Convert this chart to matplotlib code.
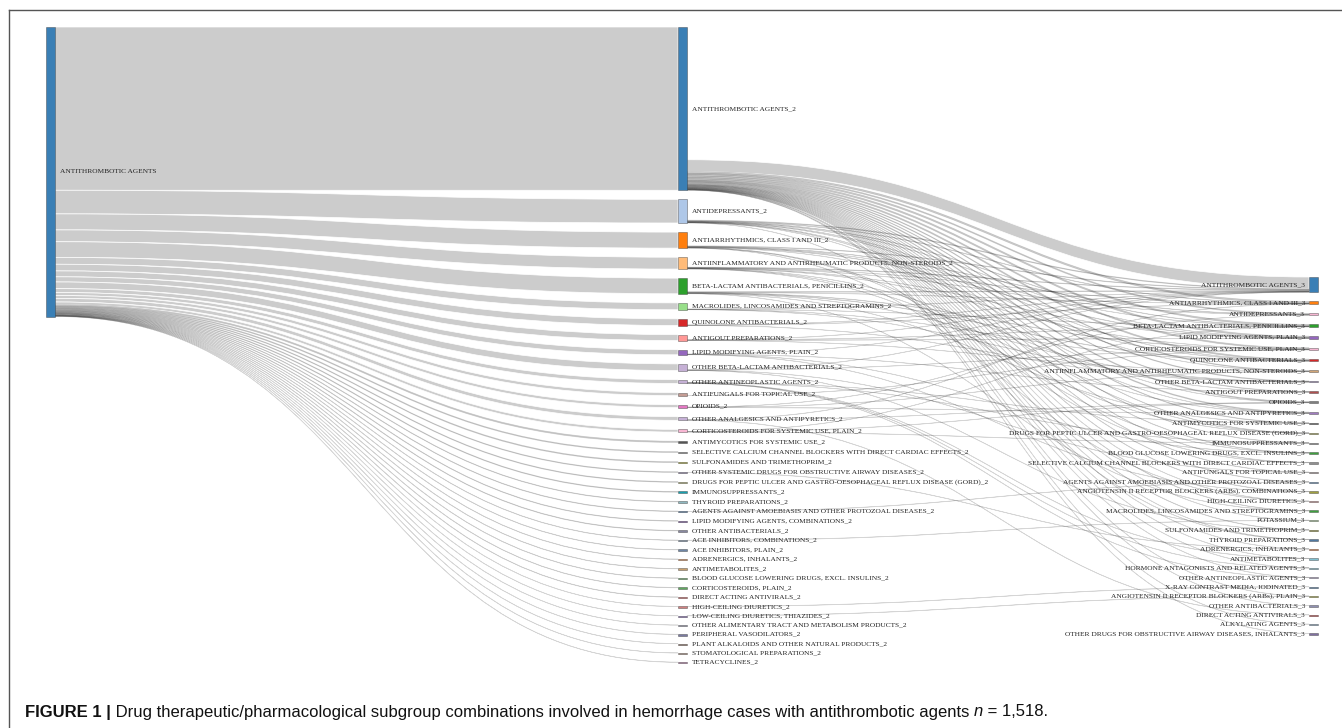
import matplotlib
matplotlib.use("Agg")
import matplotlib.pyplot as plt
from matplotlib.path import Path
from matplotlib.patches import PathPatch, Rectangle

# ---- data ----
first_drug = "ANTITHROMBOTIC AGENTS"
first_color = "#3a7fb5"

second_drugs = [
    "ANTITHROMBOTIC AGENTS",
    "ANTIDEPRESSANTS",
    "ANTIARRHYTHMICS, CLASS I AND III",
    "ANTIINFLAMMATORY AND ANTIRHEUMATIC PRODUCTS, NON-STEROIDS",
    "BETA-LACTAM ANTIBACTERIALS, PENICILLINS",
    "MACROLIDES, LINCOSAMIDES AND STREPTOGRAMINS",
    "QUINOLONE ANTIBACTERIALS",
    "ANTIGOUT PREPARATIONS",
    "LIPID MODIFYING AGENTS, PLAIN",
    "OTHER BETA-LACTAM ANTIBACTERIALS",
    "OTHER ANTINEOPLASTIC AGENTS",
    "ANTIFUNGALS FOR TOPICAL USE",
    "OPIOIDS",
    "OTHER ANALGESICS AND ANTIPYRETICS",
    "CORTICOSTEROIDS FOR SYSTEMIC USE, PLAIN",
    "ANTIMYCOTICS FOR SYSTEMIC USE",
    "SELECTIVE CALCIUM CHANNEL BLOCKERS WITH DIRECT CARDIAC EFFECTS",
    "SULFONAMIDES AND TRIMETHOPRIM",
    "OTHER SYSTEMIC DRUGS FOR OBSTRUCTIVE AIRWAY DISEASES",
    "DRUGS FOR PEPTIC ULCER AND GASTRO-OESOPHAGEAL REFLUX DISEASE (GORD)",
    "IMMUNOSUPPRESSANTS",
    "THYROID PREPARATIONS",
    "AGENTS AGAINST AMOEBIASIS AND OTHER PROTOZOAL DISEASES",
    "LIPID MODIFYING AGENTS, COMBINATIONS",
    "OTHER ANTIBACTERIALS",
    "ACE INHIBITORS, COMBINATIONS",
    "ACE INHIBITORS, PLAIN",
    "ADRENERGICS, INHALANTS",
    "ANTIMETABOLITES",
    "BLOOD GLUCOSE LOWERING DRUGS, EXCL. INSULINS",
    "CORTICOSTEROIDS, PLAIN",
    "DIRECT ACTING ANTIVIRALS",
    "HIGH-CEILING DIURETICS",
    "LOW-CEILING DIURETICS, THIAZIDES",
    "OTHER ALIMENTARY TRACT AND METABOLISM PRODUCTS",
    "PERIPHERAL VASODILATORS",
    "PLANT ALKALOIDS AND OTHER NATURAL PRODUCTS",
    "STOMATOLOGICAL PREPARATIONS",
    "TETRACYCLINES",
]
second_counts = [856, 124, 84, 62, 82, 36, 35, 31, 27, 35, 20, 16, 15, 19, 14,
                 7, 5, 5, 4, 4, 4, 3, 3, 3, 3, 2, 2, 2, 2, 2, 2, 2,
                 1, 1, 1, 1, 1, 1, 1]
second_colors = [
    "#3a7fb5", "#aec7e8", "#ff7f0e", "#ffbb78", "#2ca02c", "#98df8a", "#d62728",
    "#ff9896", "#9467bd", "#c5b0d5", "#c5b0d5", "#c49c94", "#e377c2", "#c5b0d5",
    "#f7b6d2", "#555555", "#7f7f7f", "#a0a020", "#8c7fa8", "#a8a860", "#17a0b0",
    "#8fb8c0", "#3f6fa0", "#6a3d9a", "#8888a0", "#6f86a6", "#6f86a6", "#e08040",
    "#c8a070", "#50a050", "#60a860", "#d05050", "#d08080", "#7a5ab0", "#9090a8",
    "#7a7aa0", "#806050", "#a08070", "#b070a0",
]

third_drugs = [
    "ANTITHROMBOTIC AGENTS",
    "ANTIARRHYTHMICS, CLASS I AND III",
    "ANTIDEPRESSANTS",
    "BETA-LACTAM ANTIBACTERIALS, PENICILLINS",
    "LIPID MODIFYING AGENTS, PLAIN",
    "CORTICOSTEROIDS FOR SYSTEMIC USE, PLAIN",
    "QUINOLONE ANTIBACTERIALS",
    "ANTIINFLAMMATORY AND ANTIRHEUMATIC PRODUCTS, NON-STEROIDS",
    "OTHER BETA-LACTAM ANTIBACTERIALS",
    "ANTIGOUT PREPARATIONS",
    "OPIOIDS",
    "OTHER ANALGESICS AND ANTIPYRETICS",
    "ANTIMYCOTICS FOR SYSTEMIC USE",
    "DRUGS FOR PEPTIC ULCER AND GASTRO-OESOPHAGEAL REFLUX DISEASE (GORD)",
    "IMMUNOSUPPRESSANTS",
    "BLOOD GLUCOSE LOWERING DRUGS, EXCL. INSULINS",
    "SELECTIVE CALCIUM CHANNEL BLOCKERS WITH DIRECT CARDIAC EFFECTS",
    "ANTIFUNGALS FOR TOPICAL USE",
    "AGENTS AGAINST AMOEBIASIS AND OTHER PROTOZOAL DISEASES",
    "ANGIOTENSIN II RECEPTOR BLOCKERS (ARBs), COMBINATIONS",
    "HIGH-CEILING DIURETICS",
    "MACROLIDES, LINCOSAMIDES AND STREPTOGRAMINS",
    "POTASSIUM",
    "SULFONAMIDES AND TRIMETHOPRIM",
    "THYROID PREPARATIONS",
    "ADRENERGICS, INHALANTS",
    "ANTIMETABOLITES",
    "HORMONE ANTAGONISTS AND RELATED AGENTS",
    "OTHER ANTINEOPLASTIC AGENTS",
    "X-RAY CONTRAST MEDIA, IODINATED",
    "ANGIOTENSIN II RECEPTOR BLOCKERS (ARBs), PLAIN",
    "OTHER ANTIBACTERIALS",
    "DIRECT ACTING ANTIVIRALS",
    "ALKYLATING AGENTS",
    "OTHER DRUGS FOR OBSTRUCTIVE AIRWAY DISEASES, INHALANTS",
]
third_colors = [
    "#3a7fb5", "#ff7f0e", "#f7b6d2", "#2ca02c", "#9467bd", "#f7b6d2", "#d62728",
    "#d2a679", "#9a88b8", "#b05050", "#7f7f7f", "#a07cc0", "#444444", "#9a9a40",
    "#808080", "#40a040", "#909090", "#a09090", "#5080b0", "#a0a040", "#d09090",
    "#40a040", "#a0c890", "#8a8a20", "#5078a0", "#e07030", "#80c0d0", "#80c0d0",
    "#b0a0c8", "#4070a0", "#a0a030", "#9090b0", "#c03030", "#80a0c0", "#8070a0",
]
# cases reaching each third drug: (index in second_drugs, cases)
third_sources = [
    [(0, 62), (1, 4), (2, 3), (3, 3), (4, 3), (5, 1), (6, 1), (7, 1), (8, 1), (9, 1)],
    [(0, 9), (1, 2), (3, 1), (4, 1), (6, 1), (13, 1)],
    [(0, 6), (2, 2), (3, 1), (12, 1)],
    [(0, 8), (1, 2), (2, 1), (5, 1), (7, 1), (14, 1)],
    [(0, 8), (1, 1), (2, 2), (3, 1), (7, 1)],
    [(0, 7), (3, 1), (4, 2), (9, 1), (11, 1)],
    [(0, 7), (1, 1), (2, 1), (4, 2), (5, 1)],
    [(0, 4), (1, 1), (7, 1), (12, 1)],
    [(0, 4), (4, 1), (5, 1), (6, 1)],
    [(0, 3), (3, 1), (8, 1)],
    [(0, 5), (1, 1), (13, 1), (14, 1)],
    [(0, 5), (1, 1), (3, 1), (12, 1)],
    [(0, 3), (4, 1), (10, 1)],
    [(0, 2), (1, 1), (3, 1)],
    [(0, 2), (10, 1), (14, 1)],
    [(0, 2), (2, 1), (8, 1)],
    [(0, 2), (2, 1)],
    [(0, 2), (9, 1)],
    [(0, 2), (22, 1)],
    [(0, 2), (8, 1)],
    [(0, 1), (2, 1)],
    [(0, 2), (4, 1)],
    [(0, 1), (25, 1)],
    [(0, 2), (9, 1)],
    [(0, 1), (1, 1)],
    [(0, 1), (18, 1)],
    [(0, 1), (10, 1)],
    [(0, 1), (10, 1)],
    [(0, 1), (10, 1)],
    [(32, 1)],
    [(0, 1), (33, 1)],
    [(0, 1)],
    [(13, 1)],
    [(0, 1)],
    [(0, 1)],
]

# ---- layout ----
W, H = 1342, 728
col_x = [46, 678, 1309]
node_w = 9
top = 27
pad = 9.1
col3_top = 277
ky = 289.5 / sum(second_counts)
link_rgba = (0, 0, 0, 0.2)
thin_edge = (0, 0, 0, 0.13)
label_font = dict(family=["Liberation Serif", "DejaVu Serif"], size=5.35, color="#222222")

fig = plt.figure(figsize=(W / 100, H / 100), dpi=100)
ax = fig.add_axes([0, 0, 1, 1])
ax.set_xlim(0, W)
ax.set_ylim(H, 0)
ax.axis("off")


def band(x0, y0a, y0b, x1, y1a, y1b):
    xm = (x0 + x1) / 2
    verts = [(x0, y0a), (xm, y0a), (xm, y1a), (x1, y1a),
             (x1, y1b), (xm, y1b), (xm, y0b), (x0, y0b), (x0, y0a)]
    codes = [Path.MOVETO, Path.CURVE4, Path.CURVE4, Path.CURVE4,
             Path.LINETO, Path.CURVE4, Path.CURVE4, Path.CURVE4, Path.CLOSEPOLY]
    h = max(y0b - y0a, y1b - y1a)
    edge = "white" if h >= 2 else thin_edge
    ax.add_patch(PathPatch(Path(verts, codes), facecolor=link_rgba,
                           edgecolor=edge, lw=0.5, zorder=1))


def node(x, y, h, color):
    ax.add_patch(Rectangle((x, y), node_w, max(h, 1.3), facecolor=color,
                           edgecolor=(0.2, 0.2, 0.2, 0.55), lw=0.5, zorder=3))


# column positions
total = sum(second_counts)
y2 = []
y = top
for c in second_counts:
    y2.append(y)
    y += c * ky + pad

third_counts = [sum(n for _, n in src) for src in third_sources]
y3 = []
y = col3_top
for c in third_counts:
    y3.append(y)
    y += c * ky + pad

# first -> second links
y_out = top
for i, c in enumerate(second_counts):
    h = c * ky
    band(col_x[0] + node_w, y_out, y_out + h, col_x[1], y2[i], y2[i] + h)
    y_out += h

# second -> third links: leave from node bottom, enter third node from top
out_links = {i: [] for i in range(len(second_drugs))}
for t, src in enumerate(third_sources):
    for s, n in src:
        out_links[s].append((t, n))
y_in = list(y3)
in_pos = {}
for t, src in enumerate(third_sources):
    for s, n in sorted(src):
        in_pos[(s, t)] = y_in[t]
        y_in[t] += n * ky
for s, lst in out_links.items():
    lst.sort()
    out_total = sum(n for _, n in lst) * ky
    yo = y2[s] + second_counts[s] * ky - out_total
    for t, n in lst:
        h = n * ky
        yi = in_pos[(s, t)]
        band(col_x[1] + node_w, yo, yo + h, col_x[2], yi, yi + h)
        yo += h

# nodes and labels
node(col_x[0], top, total * ky, first_color)
ax.text(col_x[0] + node_w + 5, top + total * ky / 2, first_drug,
        ha="left", va="center", zorder=4, **label_font)
for i, name in enumerate(second_drugs):
    h = second_counts[i] * ky
    node(col_x[1], y2[i], h, second_colors[i])
    ax.text(col_x[1] + node_w + 5, y2[i] + h / 2, name + "_2",
            ha="left", va="center", zorder=4, **label_font)
for i, name in enumerate(third_drugs):
    h = third_counts[i] * ky
    node(col_x[2], y3[i], h, third_colors[i])
    ax.text(col_x[2] - 4, y3[i] + h / 2, name + "_3",
            ha="right", va="center", zorder=4, **label_font)

# frame
ax.plot([9, 9], [10, H], color="#555555", lw=1, zorder=5)
ax.plot([9, W], [10, 10], color="#555555", lw=1, zorder=5)

# caption
cap_font = ["Liberation Sans", "DejaVu Sans"]
cap_size = 12.0
t1 = ax.text(25, 712, "FIGURE 1 |", family=cap_font, weight="bold",
             size=cap_size, color="#111111", va="center", ha="left")
t2 = ax.annotate(" Drug therapeutic/pharmacological subgroup combinations involved in "
                 "hemorrhage cases with antithrombotic agents ",
                 xy=(1, 0), xycoords=t1, va="bottom", ha="left",
                 family=cap_font, size=cap_size, color="#111111")
t3 = ax.annotate("n", xy=(1, 0), xycoords=t2, va="bottom", ha="left",
                 family=cap_font, style="italic", size=cap_size, color="#111111")
ax.annotate(" = 1,518.", xy=(1, 0), xycoords=t3, va="bottom", ha="left",
            family=cap_font, size=cap_size, color="#111111")

fig.savefig("out.png", dpi=100)
